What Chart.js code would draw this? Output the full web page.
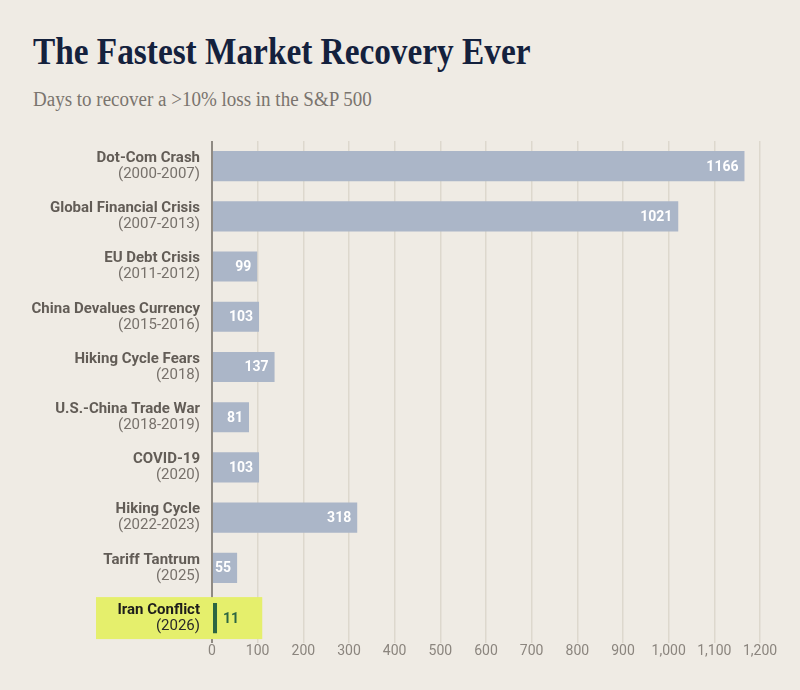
<!DOCTYPE html>
<html>
<head>
<meta charset="utf-8">
<script src="https://cdn.jsdelivr.net/npm/chart.js@4/dist/chart.umd.min.js"></script>
<style>
  html, body { margin: 0; padding: 0; background: #efebe4; }
  #wrap { position: relative; width: 800px; height: 690px; overflow: hidden; }
  h1 {
    position: absolute; left: 33px; top: 30px; margin: 0;
    font: bold 37px "Liberation Serif", "DejaVu Serif", serif;
    color: #14213d; white-space: nowrap;
    transform: scaleX(0.9); transform-origin: left top;
  }
  h2 {
    position: absolute; left: 33px; top: 88px; margin: 0;
    font: normal 20px "Liberation Serif", "DejaVu Serif", serif;
    color: #7a746e; white-space: nowrap;
    transform: scaleX(0.95); transform-origin: left top;
  }
  canvas { position: absolute; left: 0; top: 0; }
</style>
</head>
<body>
<div id="wrap">
  <h1>The Fastest Market Recovery Ever</h1>
  <h2>Days to recover a &gt;10% loss in the S&amp;P 500</h2>
  <canvas id="chart" width="800" height="690"></canvas>
</div>
<script>
// Data
const events = [
  'Dot-Com Crash', 'Global Financial Crisis', 'EU Debt Crisis', 'China Devalues Currency',
  'Hiking Cycle Fears', 'U.S.-China Trade War', 'COVID-19', 'Hiking Cycle',
  'Tariff Tantrum', 'Iran Conflict'
];
const periods = [
  '(2000-2007)', '(2007-2013)', '(2011-2012)', '(2015-2016)',
  '(2018)', '(2018-2019)', '(2020)', '(2022-2023)',
  '(2025)', '(2026)'
];
const days = [1166, 1021, 99, 103, 137, 81, 103, 318, 55, 11];
const xTicks = [0, 100, 200, 300, 400, 500, 600, 700, 800, 900, 1000, 1100, 1200];
const highlightIndex = 9;

const SANS = '"Roboto", "Liberation Sans", sans-serif';
const barColors = days.map((_, i) => i === highlightIndex ? '#2c6642' : '#abb6c8');

// highlight box behind the last category label
const highlightPlugin = {
  id: 'highlight',
  beforeDatasetsDraw(chart) {
    const { ctx, scales: { x, y } } = chart;
    const cy = y.getPixelForValue(highlightIndex);
    const half = 21;
    ctx.save();
    ctx.fillStyle = '#e5ef6c';
    ctx.fillRect(96, cy - half, x.getPixelForValue(110) - 96, half * 2);
    ctx.restore();
  }
};

// two-line category labels: bold name + period
const labelPlugin = {
  id: 'twoLineLabels',
  afterDraw(chart) {
    const { ctx, scales: { y } } = chart;
    ctx.save();
    ctx.textAlign = 'right';
    ctx.textBaseline = 'middle';
    events.forEach((name, i) => {
      const cy = y.getPixelForValue(i);
      const hl = i === highlightIndex;
      ctx.font = `bold 15px ${SANS}`;
      ctx.fillStyle = hl ? '#1d1d1b' : '#625c56';
      ctx.fillText(name, 200, cy - 8);
      ctx.font = `15px ${SANS}`;
      ctx.fillStyle = hl ? '#2a2a28' : '#77716b';
      ctx.fillText(periods[i], 200, cy + 8);
    });
    ctx.restore();
  }
};

// value labels inside / next to bars
const valuePlugin = {
  id: 'values',
  afterDatasetsDraw(chart) {
    const { ctx } = chart;
    const meta = chart.getDatasetMeta(0);
    ctx.save();
    ctx.textBaseline = 'middle';
    ctx.font = `bold 14px ${SANS}`;
    meta.data.forEach((bar, i) => {
      if (i === highlightIndex) {
        ctx.textAlign = 'left';
        ctx.fillStyle = '#2c6642';
        ctx.fillText(String(days[i]), bar.x + 6, bar.y + 1);
      } else {
        ctx.textAlign = 'right';
        ctx.fillStyle = '#ffffff';
        ctx.fillText(String(days[i]), bar.x - 6, bar.y + 1);
      }
    });
    ctx.restore();
  }
};

new Chart(document.getElementById('chart'), {
  type: 'bar',
  data: {
    labels: events,
    datasets: [{
      data: days,
      backgroundColor: barColors,
      borderWidth: 0,
      barPercentage: 1,
      categoryPercentage: 0.6
    }]
  },
  options: {
    indexAxis: 'y',
    responsive: false,
    animation: false,
    layout: { padding: { left: 212, right: 40, top: 141, bottom: 30 } },
    plugins: { legend: { display: false }, tooltip: { enabled: false } },
    scales: {
      y: { display: false },
      x: {
        min: 0,
        max: 1200,
        afterBuildTicks: (axis) => { axis.ticks = xTicks.map(v => ({ value: v })); },
        border: { display: false },
        grid: {
          drawTicks: false,
          color: (c) => c.tick && c.tick.value === 0 ? '#8f8a83' : '#ddd8cd',
          lineWidth: (c) => c.tick && c.tick.value === 0 ? 2 : 1.5
        },
        ticks: {
          padding: 0,
          color: '#8b857e',
          font: { family: SANS, size: 14 },
          callback: (v) => Number(v).toLocaleString('en-US')
        }
      }
    }
  },
  plugins: [highlightPlugin, labelPlugin, valuePlugin]
});
</script>
</body>
</html>
